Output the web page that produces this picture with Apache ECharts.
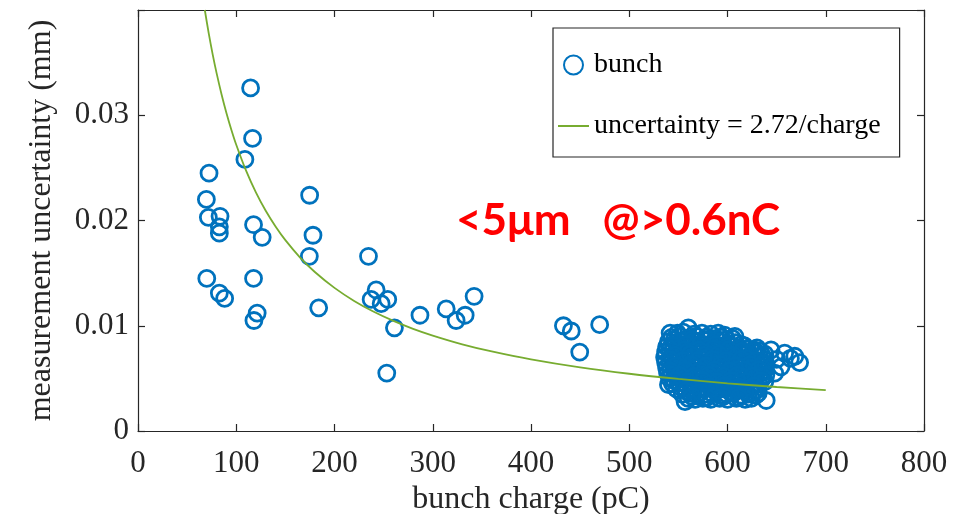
<!DOCTYPE html>
<html>
<head>
<meta charset="utf-8">
<script src="https://cdn.jsdelivr.net/npm/echarts@6/dist/echarts.min.js"></script>
<style>html,body{margin:0;padding:0;background:#fff}#c{width:969px;height:514px}</style>
</head>
<body>
<div id="c"></div>
<script>
// ---- data ----
var xTicks = [0, 100, 200, 300, 400, 500, 600, 700, 800];
var yTicks = [0, 0.01, 0.02, 0.03];

// sparse bunches [charge pC, uncertainty mm]
var sparseBunches = [
  [114.6, 0.0326], [116.6, 0.0278], [108.8, 0.0258], [72.3, 0.0245], [69.6, 0.0220],
  [71.6, 0.0203], [83.5, 0.0204], [82.8, 0.0194], [82.8, 0.0188], [117.6, 0.0196],
  [126.4, 0.0184], [174.7, 0.0224], [178.1, 0.0186], [174.4, 0.0166], [234.6, 0.0166],
  [70.0, 0.0145], [117.6, 0.0145], [82.8, 0.0131], [88.2, 0.0126], [121.3, 0.0112],
  [118.0, 0.0105], [183.9, 0.0117], [242.4, 0.0134], [237.3, 0.0125], [254.2, 0.0125],
  [247.5, 0.0121], [261.0, 0.0098], [287.0, 0.0110], [253.2, 0.0055], [313.7, 0.0116],
  [323.8, 0.0105], [333.0, 0.0110], [342.1, 0.0128], [433.0, 0.0100], [441.0, 0.0095],
  [449.6, 0.0075], [469.9, 0.0101]
];

// dense cluster around 600 pC
var clusterBunches = [
  [541.6, 0.0093], [560.1, 0.0098], [590.5, 0.0093], [607.5, 0.0090], [644.3, 0.0077],
  [658.2, 0.0074], [673.4, 0.0065], [654.5, 0.0061], [539.9, 0.0044], [556.8, 0.0028],
  [624.2, 0.0031], [639.4, 0.0029], [631.3, 0.0036], [638.0, 0.0047], [664.0, 0.0069],
  [650.0, 0.0068], [668.5, 0.0071], [648.0, 0.0055],
  [549, 0.0093], [555, 0.0094], [566, 0.0092], [574, 0.0093], [583, 0.0092], [597, 0.0091],
  [543, 0.0089], [551, 0.0090], [559, 0.0088], [568, 0.0090], [578, 0.0089], [588, 0.0088], [599, 0.0087], [605, 0.0088],
  [540, 0.0085], [547, 0.0084], [555, 0.0086], [562, 0.0084], [570, 0.0085], [577, 0.0086], [585, 0.0084], [593, 0.0085], [600, 0.0083], [608, 0.0084], [614, 0.0082],
  [538, 0.0080], [545, 0.0081], [553, 0.0079], [560, 0.0080], [568, 0.0081], [575, 0.0079], [583, 0.0080], [590, 0.0081], [598, 0.0079], [605, 0.0080], [612, 0.0079], [620, 0.0078], [627, 0.0077],
  [537, 0.0075], [544, 0.0076], [551, 0.0074], [559, 0.0075], [566, 0.0076], [574, 0.0074], [581, 0.0075], [589, 0.0076], [596, 0.0074], [604, 0.0075], [611, 0.0076], [618, 0.0074], [626, 0.0075], [633, 0.0076], [638, 0.0073],
  [536, 0.0070], [543, 0.0071], [550, 0.0069], [558, 0.0070], [565, 0.0071], [572, 0.0069], [580, 0.0070], [587, 0.0071], [595, 0.0069], [602, 0.0070], [610, 0.0071], [617, 0.0069], [624, 0.0070], [632, 0.0071], [638, 0.0068],
  [537, 0.0065], [544, 0.0066], [552, 0.0064], [559, 0.0065], [567, 0.0066], [574, 0.0064], [581, 0.0065], [589, 0.0066], [596, 0.0064], [603, 0.0065], [611, 0.0066], [618, 0.0064], [626, 0.0065], [633, 0.0066], [639, 0.0063],
  [538, 0.0060], [545, 0.0061], [553, 0.0059], [560, 0.0060], [568, 0.0061], [575, 0.0059], [582, 0.0060], [590, 0.0061], [597, 0.0059], [605, 0.0060], [612, 0.0061], [620, 0.0059], [627, 0.0060], [634, 0.0061], [638, 0.0058],
  [539, 0.0055], [546, 0.0056], [554, 0.0054], [561, 0.0055], [569, 0.0056], [576, 0.0054], [584, 0.0055], [591, 0.0056], [598, 0.0054], [606, 0.0055], [613, 0.0056], [621, 0.0054], [628, 0.0055], [636, 0.0056],
  [541, 0.0050], [548, 0.0051], [555, 0.0049], [563, 0.0050], [570, 0.0051], [577, 0.0049], [585, 0.0050], [592, 0.0051], [600, 0.0049], [607, 0.0050], [614, 0.0051], [622, 0.0049], [629, 0.0050], [636, 0.0051],
  [544, 0.0045], [551, 0.0046], [558, 0.0044], [566, 0.0045], [573, 0.0046], [580, 0.0044], [588, 0.0045], [595, 0.0046], [602, 0.0044], [610, 0.0045], [617, 0.0046], [625, 0.0044], [632, 0.0045],
  [548, 0.0040], [556, 0.0041], [563, 0.0039], [571, 0.0040], [578, 0.0041], [586, 0.0039], [593, 0.0040], [600, 0.0041], [608, 0.0039], [615, 0.0040], [623, 0.0041], [630, 0.0039],
  [554, 0.0035], [562, 0.0036], [569, 0.0034], [577, 0.0035], [584, 0.0036], [592, 0.0034], [599, 0.0035], [606, 0.0036], [614, 0.0034], [621, 0.0035], [629, 0.0034],
  [560, 0.0031], [567, 0.0030], [575, 0.0031], [583, 0.0030], [592, 0.0031], [600, 0.0030], [609, 0.0031], [618, 0.0030],
  [546, 0.0087], [564, 0.0087], [581, 0.0087], [594, 0.0089], [558, 0.0082], [573, 0.0083], [588, 0.0082], [603, 0.0081], [617, 0.0081],
  [541, 0.0078], [556, 0.0077], [571, 0.0077], [586, 0.0078], [601, 0.0077], [615, 0.0076], [630, 0.0079],
  [547, 0.0072], [562, 0.0073], [576, 0.0072], [591, 0.0073], [606, 0.0072], [620, 0.0073], [635, 0.0072],
  [541, 0.0068], [555, 0.0067], [570, 0.0067], [585, 0.0068], [599, 0.0067], [614, 0.0068], [629, 0.0067],
  [548, 0.0062], [563, 0.0063], [578, 0.0062], [593, 0.0063], [608, 0.0062], [623, 0.0063], [636, 0.0064],
  [542, 0.0057], [557, 0.0058], [572, 0.0057], [587, 0.0058], [602, 0.0057], [617, 0.0058], [632, 0.0058],
  [551, 0.0053], [566, 0.0052], [581, 0.0053], [596, 0.0052], [610, 0.0053], [625, 0.0052], [639, 0.0053],
  [546, 0.0048], [560, 0.0047], [575, 0.0048], [590, 0.0047], [604, 0.0048], [619, 0.0047], [634, 0.0048],
  [552, 0.0042], [567, 0.0043], [582, 0.0042], [597, 0.0043], [612, 0.0042], [627, 0.0043],
  [558, 0.0038], [573, 0.0037], [588, 0.0038], [603, 0.0037], [618, 0.0038], [626, 0.0037],
  [564, 0.0033], [579, 0.0032], [596, 0.0033], [612, 0.0032]
];

// fitted curve: uncertainty = 2.72 / charge (values read/tabulated)
var curveCharge = [68, 72, 76, 80, 85, 90, 95, 100, 110, 120, 130, 140, 150, 165, 180, 200, 220, 240, 260, 280, 300, 330, 360, 400, 450, 500, 550, 600, 650, 700];
var curveUncert = [0.04000, 0.03778, 0.03579, 0.03400, 0.03200, 0.03022, 0.02863, 0.02720, 0.02473, 0.02267, 0.02092, 0.01943, 0.01813, 0.01648, 0.01511, 0.01360, 0.01236, 0.01133, 0.01046, 0.00971, 0.00907, 0.00824, 0.00756, 0.00680, 0.00604, 0.00544, 0.00495, 0.00453, 0.00418, 0.00389];

var seriesNames = ['bunch', 'uncertainty = 2.72/charge'];
var annotation = '<5\u03bcm   @>0.6nC';

// ---- chart ----
var axisColor = '#262626';
var serif = '"Liberation Serif", "Times New Roman", serif';
var curveData = curveCharge.map(function (c, i) { return [c, curveUncert[i]]; });

var chart = echarts.init(document.getElementById('c'), null, {renderer: 'canvas'});
var baseAxis = {
  type: 'value',
  axisLine: {show: true, onZero: false, lineStyle: {color: axisColor, width: 1.2}},
  axisTick: {show: true, inside: true, length: 7, lineStyle: {color: axisColor, width: 1.2}},
  splitLine: {show: false}
};
chart.setOption({
  animation: false,
  backgroundColor: '#fff',
  grid: {left: 138, right: 45, top: 10, bottom: 83, containLabel: false, outerBoundsMode: 'none'},
  xAxis: [
    Object.assign({}, baseAxis, {
      min: xTicks[0], max: xTicks[xTicks.length - 1], interval: 100, position: 'bottom',
      axisLabel: {fontFamily: serif, fontSize: 31, color: axisColor, margin: 17},
      name: 'bunch charge (pC)', nameLocation: 'middle', nameGap: 47,
      nameTextStyle: {fontFamily: serif, fontSize: 32, color: axisColor}
    }),
    Object.assign({}, baseAxis, {
      min: xTicks[0], max: xTicks[xTicks.length - 1], interval: 100, position: 'top',
      axisLabel: {show: false}
    })
  ],
  yAxis: [
    Object.assign({}, baseAxis, {
      min: 0, max: 0.04, interval: 0.01, position: 'left',
      axisLabel: {fontFamily: serif, fontSize: 31, color: axisColor, margin: 9,
        formatter: function (v) {
          if (v === 0) return '0';
          for (var i = 0; i < yTicks.length; i++) if (Math.abs(yTicks[i] - v) < 1e-9) return v.toFixed(2);
          return '';
        }},
      name: 'measurement uncertainty (mm)', nameLocation: 'middle', nameGap: 80,
      nameTextStyle: {fontFamily: serif, fontSize: 32, color: axisColor}
    }),
    Object.assign({}, baseAxis, {
      min: 0, max: 0.04, interval: 0.01, position: 'right',
      axisLabel: {show: false}
    })
  ],
  legend: {
    orient: 'vertical', left: 553, top: 28,
    padding: [23, 19, 17, 4], itemGap: 33, itemWidth: 31, itemHeight: 19,
    borderColor: axisColor, borderWidth: 1.2, backgroundColor: '#fff',
    textStyle: {fontFamily: serif, fontSize: 28, color: '#000'},
    data: [
      {name: seriesNames[0]},
      {name: seriesNames[1], itemStyle: {opacity: 0}}
    ]
  },
  series: [
    {
      name: seriesNames[0], type: 'scatter', symbol: 'circle', symbolSize: 16,
      itemStyle: {color: 'rgba(0,0,0,0)', borderColor: '#0072BD', borderWidth: 2.8, opacity: 1},
      data: sparseBunches.concat(clusterBunches), z: 2
    },
    {
      name: seriesNames[1], type: 'line', symbol: 'none', smooth: 0.3,
      lineStyle: {color: '#77AC30', width: 1.8}, itemStyle: {color: '#77AC30'},
      data: curveData, z: 3
    }
  ],
  graphic: [{
    type: 'text', left: 456, top: 199, z: 10,
    style: {text: annotation, font: 'bold 44px Lato, "Open Sans", sans-serif', fill: '#FF0000'}
  }]
});
</script>
</body>
</html>
